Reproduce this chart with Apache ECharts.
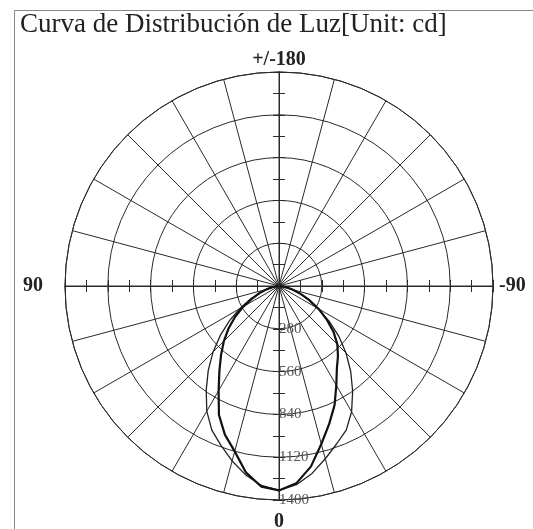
<!DOCTYPE html>
<html>
<head>
<meta charset="utf-8">
<script src="https://cdn.jsdelivr.net/npm/echarts@6/dist/echarts.min.js"></script>
<style>
  html, body { margin: 0; padding: 0; background: #fff; }
  #chart { width: 533px; height: 529px; }
</style>
</head>
<body>
<div id="chart"></div>
<script>
// angles in degrees from nadir (0 = straight down)
const angles = [0, 5, 10, 15, 20, 25, 30, 35, 40, 45, 50, 55, 60, 65, 70, 75, 80, 85, 90];
// thick curve, left / right half (cd)
const thickLeft  = [1340, 1318, 1240, 1120, 1035, 930, 790, 680, 590, 510, 430, 350, 270, 195, 135, 85, 45, 20, 5];
const thickRight = [1335, 1296, 1200, 1070, 960, 860, 750, 660, 600, 540, 465, 380, 300, 220, 150, 95, 50, 22, 5];
// thin curve, left / right half (cd)
const thinLeft  = [1340, 1310, 1255, 1185, 1110, 1040, 945, 830, 720, 610, 500, 395, 295, 210, 140, 88, 48, 22, 5];
const thinRight = [1335, 1305, 1245, 1170, 1100, 1040, 950, 840, 730, 620, 510, 400, 290, 210, 145, 90, 50, 22, 5];
const ringTicks = [280, 560, 840, 1120, 1400];
const angleLabels = { 0: '{b|0}', 90: '{l|90}', 180: '+/-180', 270: '{r|-90}' };

const chart = echarts.init(document.getElementById('chart'));

const center = [279, 286];
const R = 214;
const serif = 'Liberation Serif';
const lineCol = '#2a2a2a';

// left half uses angles 0..90, right half 360-a
function buildLoop(left, right) {
    let pts = [];
    for (let i = angles.length - 1; i >= 1; i--) pts.push([right[i], 360 - angles[i]]);
    pts.push([(left[0] + right[0]) / 2, 0]);
    for (let i = 1; i < angles.length; i++) pts.push([left[i], angles[i]]);
    return pts;
}

// one polar per axis half and tick side (negative length flips the side)
const dirs = [270, 90, 180, 0];
let polars = [], angleAxes = [], radiusAxes = [];
let idx = 0;
dirs.forEach(function (dir) {
    [6, -6].forEach(function (len) {
        polars.push({ center: center, radius: R });
        const main = (dir === 270 && len > 0);
        angleAxes.push({
            polarIndex: idx,
            type: 'value',
            min: 0,
            max: 360,
            interval: 15,
            startAngle: dir,
            clockwise: true,
            show: main,
            axisLine: { show: true, lineStyle: { color: lineCol, width: 1 } },
            axisTick: { show: false },
            splitLine: { show: true, lineStyle: { color: lineCol, width: 1 } },
            axisLabel: {
                show: true,
                margin: 2,
                fontFamily: serif,
                fontWeight: 'bold',
                fontSize: 20,
                color: '#222',
                formatter: function (v) {
                    return angleLabels[v] !== undefined ? angleLabels[v] : '';
                },
                rich: {
                    b: { fontFamily: serif, fontWeight: 'bold', fontSize: 20, color: '#222', padding: [10, 0, 0, 0] },
                    l: { fontFamily: serif, fontWeight: 'bold', fontSize: 20, color: '#222', padding: [0, 20, 0, 0] },
                    r: { fontFamily: serif, fontWeight: 'bold', fontSize: 20, color: '#222', padding: [0, 0, 0, 4] }
                }
            }
        });
        radiusAxes.push({
            polarIndex: idx,
            type: 'value',
            min: 0,
            max: 1400,
            interval: 280,
            axisLine: { show: true, lineStyle: { color: lineCol, width: 1 } },
            axisTick: { show: true, length: len, lineStyle: { color: lineCol } },
            minorTick: { show: true, splitNumber: 2, length: len, lineStyle: { color: lineCol } },
            splitLine: { show: main, lineStyle: { color: lineCol, width: 1 } },
            axisLabel: {
                show: main,
                showMinLabel: false,
                margin: 0,
                fontFamily: serif,
                fontSize: 15,
                color: '#555',
                formatter: function (v) {
                    return ringTicks.indexOf(v) >= 0 ? String(v) : '';
                }
            }
        });
        idx++;
    });
});

const option = {
    backgroundColor: '#fff',
    animation: false,
    title: {
        text: 'Curva de Distribución de Luz[Unit: cd]',
        left: 20,
        top: 11,
        padding: 0,
        textStyle: {
            fontFamily: serif,
            fontSize: 27,
            fontWeight: 'normal',
            color: '#222'
        }
    },
    graphic: [{
        type: 'rect',
        shape: { x: 14.5, y: 10.5, width: 600, height: 600 },
        style: { fill: 'none', stroke: '#888', lineWidth: 1 },
        silent: true,
        z: 100
    }],
    polar: polars,
    angleAxis: angleAxes,
    radiusAxis: radiusAxes,
    series: [{
        type: 'line',
        coordinateSystem: 'polar',
        polarIndex: 0,
        showSymbol: false,
        data: buildLoop(thinLeft, thinRight),
        lineStyle: { color: '#222', width: 1.3 },
        z: 5
    }, {
        type: 'line',
        coordinateSystem: 'polar',
        polarIndex: 0,
        showSymbol: false,
        data: buildLoop(thickLeft, thickRight),
        lineStyle: { color: '#111', width: 2.2 },
        z: 6
    }]
};

chart.setOption(option);

window.onresize = function () {
    chart.resize();
}
</script>
</body>
</html>
